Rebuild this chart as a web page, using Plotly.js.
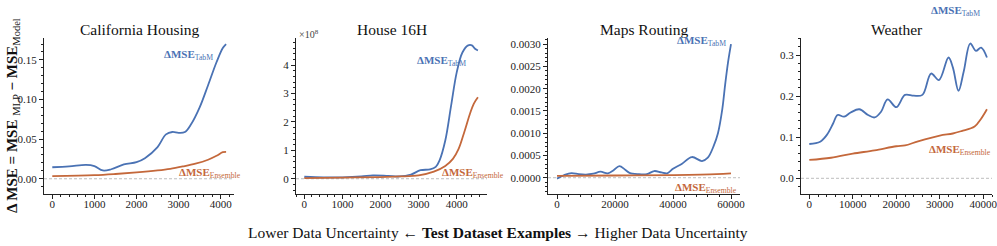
<!DOCTYPE html>
<html>
<head>
<meta charset="utf-8">
<script src="https://cdn.plot.ly/plotly-3.0.1.min.js"></script>
<style>html,body{margin:0;padding:0;background:#fff;}#chart{width:997px;height:246px;}</style>
</head>
<body>
<div id="chart"></div>
<script>
// ---------- DATA ----------
const panelTitles = ["California Housing", "House 16H", "Maps Routing", "Weather"];

// California Housing
const caX      = [0, 400, 800, 1000, 1200, 1400, 1700, 2000, 2200, 2500, 2700, 2850, 3000, 3150, 3300, 3500, 3700, 3900, 4050, 4128];
const caTabM   = [0.0145, 0.0155, 0.0175, 0.016, 0.0105, 0.012, 0.018, 0.021, 0.026, 0.040, 0.056, 0.059, 0.058, 0.059, 0.069, 0.090, 0.118, 0.147, 0.165, 0.170];
const caEnsX   = [0, 1000, 1500, 2000, 2500, 2800, 3100, 3400, 3700, 3900, 4050, 4128];
const caEns    = [0.0033, 0.0045, 0.006, 0.008, 0.0105, 0.0125, 0.0155, 0.019, 0.024, 0.029, 0.0335, 0.034];

// House 16H (values in units of 1e8)
const hoX      = [0, 500, 1000, 1500, 1800, 2200, 2500, 2800, 3050, 3300, 3450, 3550, 3700, 3850, 4000, 4150, 4300, 4400, 4480, 4557];
const hoTabM   = [0.07, 0.05, 0.05, 0.08, 0.12, 0.10, 0.08, 0.15, 0.30, 0.33, 0.42, 0.65, 1.35, 2.55, 3.75, 4.45, 4.70, 4.70, 4.58, 4.52];
const hoEnsX   = [0, 1000, 2000, 2500, 3000, 3400, 3700, 3900, 4050, 4200, 4350, 4450, 4557];
const hoEns    = [0.02, 0.04, 0.06, 0.08, 0.12, 0.25, 0.45, 0.70, 1.05, 1.65, 2.30, 2.65, 2.87];

// Maps Routing
const maX      = [0, 2500, 5000, 7500, 10000, 12500, 15000, 17500, 19500, 21500, 23500, 25000, 28000, 31000, 33500, 36000, 38000, 40000, 43000, 46500, 50000, 52000, 54000, 55500, 57000, 58000, 59000, 60000];
const maTabM   = [-0.00002, 0.00006, 0.000105, 0.00008, 0.00007, 0.00009, 0.000135, 0.0001, 0.00017, 0.00026, 0.00018, 0.00011, 0.00008, 0.00008, 0.00015, 0.00012, 0.0001, 0.0002, 0.00031, 0.000465, 0.000375, 0.00045, 0.00071, 0.00100, 0.00154, 0.0021, 0.0026, 0.0030];
const maEnsX   = [0, 20000, 40000, 55000, 60000];
const maEns    = [0.00004, 0.00005, 0.00006, 0.00008, 0.0001];

// Weather
const weX      = [0, 2500, 4000, 5500, 6500, 8000, 9500, 11500, 13500, 15000, 16500, 18000, 20000, 22000, 24000, 26000, 28000, 29800, 32000, 33000, 34300, 35500, 37000, 38300, 39500, 40840];
const weTabM   = [0.0835, 0.089, 0.105, 0.134, 0.154, 0.150, 0.160, 0.168, 0.154, 0.148, 0.162, 0.192, 0.173, 0.203, 0.201, 0.203, 0.255, 0.239, 0.294, 0.270, 0.213, 0.260, 0.328, 0.310, 0.318, 0.294];
const weEnsX   = [0, 5000, 10000, 15000, 20000, 22000, 25000, 30000, 33000, 35000, 38000, 39500, 40840];
const weEns    = [0.0446, 0.050, 0.060, 0.068, 0.078, 0.080, 0.090, 0.104, 0.109, 0.115, 0.126, 0.145, 0.168];

const labelTabM = "<b>ΔMSE</b><sub>TabM</sub>";
const labelEns  = "<b>ΔMSE</b><sub>Ensemble</sub>";
const yTitle    = "<b>Δ MSE = MSE </b><sub>MLP</sub><b> − MSE</b><sub>Model</sub>";
const xTitle    = "Lower Data Uncertainty ← <b>Test Dataset Examples</b> → Higher Data Uncertainty";

// ---------- STYLE / LAYOUT ----------
const W = 997, H = 246;
const BLUE = "#4a72b4", ORANGE = "#c4683b";
const FONT = "Liberation Serif, Times New Roman, serif";
const px = v => v / W, py = v => 1 - v / H;

const panels = [
  {x: caX, t: caTabM, ex: caEnsX, e: caEns, box: [44, 234], xr: [-197, 4316], yr: [-0.0186, 0.1776],
   xd: 1000, xm: 200, yd: 0.05, ym: 0.01, yf: ".2f", tab: [188, 55], ens: [210, 173]},
  {x: hoX, t: hoTabM, ex: hoEnsX, e: hoEns, box: [296, 487], xr: [-218, 4795], yr: [-0.52, 4.96],
   xd: 1000, xm: 200, yd: 1, ym: 0.2, yf: "d", tab: [441, 61], ens: [473, 173]},
  {x: maX, t: maTabM, ex: maEnsX, e: maEns, box: [548, 740], xr: [-3103, 63103], yr: [-0.000354, 0.003137],
   xd: 20000, xm: 4000, yd: 0.0005, ym: 0.0001, yf: ".4f", tab: [701, 41], ens: [706, 188]},
  {x: weX, t: weTabM, ex: weEnsX, e: weEns, box: [801, 992], xr: [-1908, 42000], yr: [-0.037, 0.3414],
   xd: 10000, xm: 2000, yd: 0.1, ym: 0.02, yf: ".1f", tab: [955, 11], ens: [960, 150]}
];
const TOP = 38, BOT = 193.5;

const data = [];
const layout = {
  width: W, height: H, margin: {l: 0, r: 0, t: 0, b: 0},
  paper_bgcolor: "#fff", plot_bgcolor: "#fff", showlegend: false,
  font: {family: FONT, color: "#222", size: 11},
  annotations: [], shapes: []
};

panels.forEach((p, i) => {
  const n = i === 0 ? "" : String(i + 1);
  const xa = "x" + n, ya = "y" + n;
  data.push({x: p.x, y: p.t, xaxis: xa, yaxis: ya, mode: "lines", type: "scatter",
             line: {color: BLUE, width: 1.8, shape: "spline", smoothing: 1}, hoverinfo: "skip"});
  data.push({x: p.ex, y: p.e, xaxis: xa, yaxis: ya, mode: "lines", type: "scatter",
             line: {color: ORANGE, width: 1.8, shape: "spline", smoothing: 1}, hoverinfo: "skip"});
  const common = {showline: true, linecolor: "#222", linewidth: 1, ticks: "outside", ticklen: 4,
                  tickcolor: "#222", showgrid: false, zeroline: false, ticklabeloverflow: "allow",
                  tickfont: {family: FONT, size: 11, color: "#222"}};
  layout["xaxis" + n] = Object.assign({}, common, {
    domain: [px(p.box[0]), px(p.box[1])], anchor: ya, range: p.xr, dtick: p.xd, tick0: 0, tickformat: "d",
    ticklabelstandoff: -4,
    minor: {ticks: "outside", ticklen: 2, dtick: p.xm, tick0: 0, tickcolor: "#222"}
  });
  layout["yaxis" + n] = Object.assign({}, common, {
    domain: [py(BOT), py(TOP)], anchor: xa, range: p.yr, dtick: p.yd, tick0: 0, tickformat: p.yf,
    minor: {ticks: "outside", ticklen: 2, dtick: p.ym, tick0: 0, tickcolor: "#222"}
  });
  layout.shapes.push({type: "line", xref: xa + " domain", yref: ya, x0: 0, x1: 1, y0: 0, y1: 0,
                      line: {color: "#b5b5b5", width: 0.9, dash: "3px,2px"}, layer: "below"});
  layout.annotations.push({text: panelTitles[i], xref: "paper", yref: "paper",
    x: px((p.box[0] + p.box[1]) / 2), y: py(29), xanchor: "center", yanchor: "middle", showarrow: false,
    font: {family: FONT, size: 15.5, color: "#111"}});
  layout.annotations.push({text: labelTabM, xref: "paper", yref: "paper", x: px(p.tab[0]), y: py(p.tab[1]),
    xanchor: "center", yanchor: "middle", showarrow: false, font: {family: FONT, size: 11, color: BLUE}});
  layout.annotations.push({text: labelEns, xref: "paper", yref: "paper", x: px(p.ens[0]), y: py(p.ens[1]),
    xanchor: "center", yanchor: "middle", showarrow: false, font: {family: FONT, size: 11, color: ORANGE}});
});

// exponent label for House 16H
layout.annotations.push({text: "×10<sup>8</sup>", xref: "paper", yref: "paper", x: px(297), y: py(34),
  xanchor: "left", yanchor: "middle", showarrow: false, font: {family: FONT, size: 10, color: "#444"}});
// y-axis title
layout.annotations.push({text: yTitle, xref: "paper", yref: "paper", x: px(13), y: py(116),
  xanchor: "center", yanchor: "middle", textangle: -90, showarrow: false, font: {family: FONT, size: 15, color: "#111"}});
// x-axis super title
layout.annotations.push({text: xTitle, xref: "paper", yref: "paper", x: px(498), y: py(232),
  xanchor: "center", yanchor: "middle", showarrow: false, font: {family: FONT, size: 15.5, color: "#111"}});

Plotly.newPlot("chart", data, layout, {staticPlot: true, displayModeBar: false});
</script>
</body>
</html>
